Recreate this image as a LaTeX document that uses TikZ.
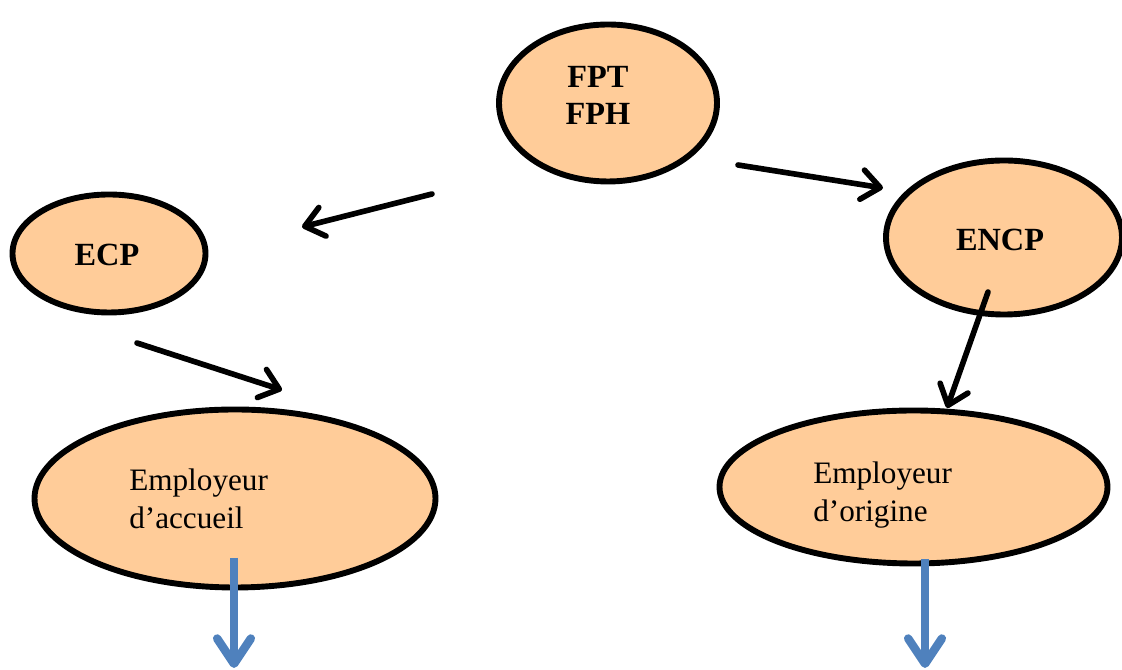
\documentclass[tikz,border=0pt]{standalone}
\usepackage{fontspec}
\setmainfont{Liberation Serif}
\usetikzlibrary{shapes.geometric,arrows.meta}
\definecolor{peach}{HTML}{FFCC99}
\definecolor{officeblue}{HTML}{4F81BD}

\begin{document}
\begin{tikzpicture}[
    bubble/.style={ellipse, draw=black, line width=4.2pt, fill=peach, inner sep=0pt},
    boldtxt/.style={inner sep=0pt, align=center, font=\fontsize{23}{26}\selectfont\bfseries},
    plaintxt/.style={inner sep=0pt, align=left, anchor=west, font=\fontsize{22.2}{27}\selectfont},
    flow/.style={black, line width=4pt, line cap=round, -{Straight Barb[length=13pt, width=21pt, round]}},
    down/.style={officeblue, line width=6pt, -{Straight Barb[length=18pt, width=24pt, round]}}
  ]
        \useasboundingbox (0,0) rectangle (28.05,16.75);
        % the five bubbles
        \node[bubble, minimum width=5.45cm, minimum height=3.925cm] (fpt) at (15.2,14.175) {};
        \node[bubble, minimum width=4.825cm, minimum height=2.95cm] (ecp) at (2.725,10.4125) {};
        \node[bubble, minimum width=5.9cm, minimum height=3.85cm] (encp) at (25.1,10.8125) {};
        \node[bubble, minimum width=10.025cm, minimum height=4.45cm] (accueil) at (5.875,4.2875) {};
        \node[bubble, minimum width=9.7cm, minimum height=3.825cm] (origine) at (22.8375,4.575) {};
        % texts
        \node[boldtxt] (fpttxt) at (14.95,14.3625) {FPT\\FPH};
        \node[boldtxt] (ecptxt) at (2.675,10.375) {ECP};
        \node[boldtxt] (encptxt) at (25.0,10.75) {ENCP};
        \node[plaintxt] (accueiltxt) at (3.225,4.275) {Employeur\\d’accueil};
        \node[plaintxt] (originetxt) at (20.325,4.3625) {Employeur\\d’origine};
        % arrow ends
        \coordinate (a1) at (10.8,11.9);
        \coordinate (b1) at (7.55,11.075);
        \coordinate (a2) at (18.45,12.625);
        \coordinate (b2) at (22.075,12.05);
        \coordinate (a3) at (3.425,8.175);
        \coordinate (b3) at (7.05,7.0);
        \coordinate (a4) at (24.7,9.45);
        \coordinate (b4) at (23.675,6.55);
        \coordinate (d1) at (5.85,2.8);
        \coordinate (e1) at (5.85,0.05);
        \coordinate (d2) at (23.125,2.775);
        \coordinate (e2) at (23.125,0.05);
        \draw[flow] (a1) -- (b1);
        \draw[flow] (a2) -- (b2);
        \draw[flow] (a3) -- (b3);
        \draw[flow] (a4) -- (b4);
        \draw[down] (d1) -- (e1);
        \draw[down] (d2) -- (e2);
    \end{tikzpicture}
\end{document}
